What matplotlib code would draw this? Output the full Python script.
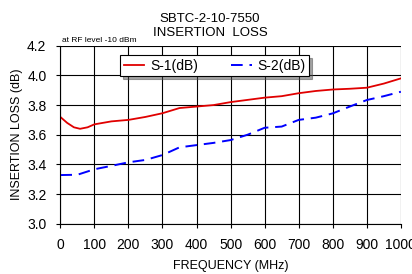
import matplotlib.pyplot as plt

plt.rcParams['font.family'] = ['Liberation Sans', 'DejaVu Sans']

# S-1 (red solid)
freq_s1 = [0, 20, 40, 58, 80, 100, 150, 200, 250, 300, 350, 400, 450, 500, 550, 600, 650, 700, 750, 800, 850, 900, 950, 1000]
loss_s1 = [3.72, 3.68, 3.65, 3.64, 3.65, 3.67, 3.69, 3.70, 3.72, 3.745, 3.78, 3.79, 3.80, 3.82, 3.835, 3.85, 3.86, 3.88, 3.895, 3.905, 3.91, 3.917, 3.945, 3.98]

# S-2 (blue dashed)
freq_s2 = [0, 50, 100, 150, 200, 250, 300, 350, 400, 450, 500, 550, 600, 650, 700, 750, 800, 850, 900, 950, 1000]
loss_s2 = [3.328, 3.33, 3.367, 3.39, 3.414, 3.43, 3.463, 3.515, 3.53, 3.545, 3.564, 3.60, 3.647, 3.655, 3.70, 3.715, 3.744, 3.79, 3.834, 3.86, 3.89]

xticks = list(range(0, 1001, 100))
yticks = [3.0, 3.2, 3.4, 3.6, 3.8, 4.0, 4.2]

fig = plt.figure(figsize=(4.12, 2.74), dpi=100)
ax = fig.add_axes([0.1464, 0.1836, 0.8266, 0.6494])

ax.plot(freq_s1, loss_s1, color='#e00000', lw=1.3, label='S-1(dB)')
ax.plot(freq_s2, loss_s2, color='#0000ff', lw=1.4, dashes=(6, 3.5), label='S-2(dB)')

ax.set_xlim(0, 1000)
ax.set_ylim(3.0, 4.2)
ax.set_xticks(xticks)
ax.set_yticks(yticks)
ax.set_yticklabels([f'{v:.1f}' for v in yticks])
ax.tick_params(labelsize=10, length=3, width=0.8, color='black')
ax.tick_params(axis='x', pad=7)
ax.tick_params(axis='y', pad=7)
ax.grid(True, color='black', lw=0.8)
ax.set_axisbelow(True)
for s in ['top', 'right']:
    ax.spines[s].set_visible(False)
for s in ['left', 'bottom']:
    ax.spines[s].set_linewidth(0.8)

ax.set_xlabel('FREQUENCY (MHz)', fontsize=9, labelpad=6)
ax.set_ylabel('INSERTION LOSS (dB)', fontsize=9, labelpad=3)

fig.text(0.51, 0.905, 'SBTC-2-10-7550\nINSERTION  LOSS', ha='center', va='center',
         fontsize=9.5, linespacing=1.15)
fig.text(0.151, 0.84, 'at RF level -10 dBm', fontsize=6, ha='left', va='bottom')

leg = ax.legend(loc='upper left', bbox_to_anchor=(0.155, 0.985), ncol=2, fontsize=10,
                frameon=True, fancybox=False, shadow=True, edgecolor='black',
                handlelength=1.5, handletextpad=0.4, columnspacing=2.4, borderpad=0.25)
leg.get_frame().set_linewidth(0.8)

fig.savefig('out.png', dpi=100)
